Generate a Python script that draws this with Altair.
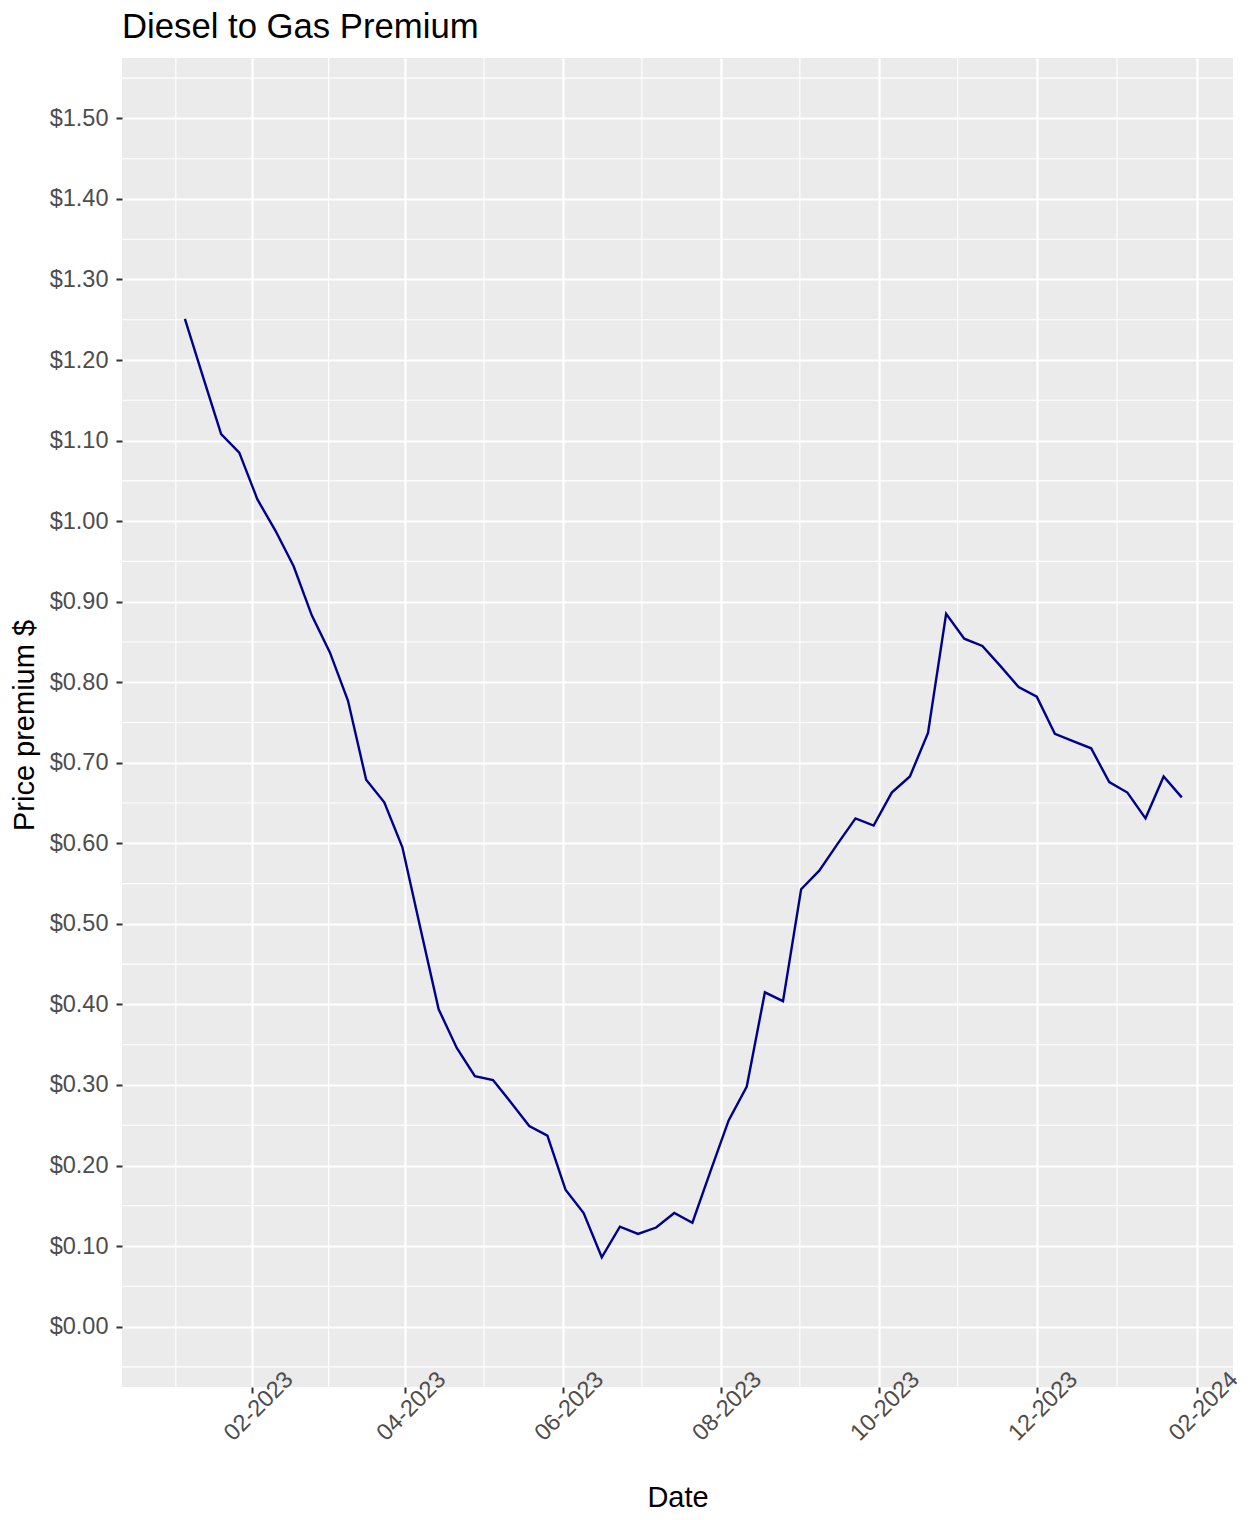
import altair as alt
import pandas as pd

# ---- data ----
dates = [
    "2023-01-06", "2023-01-13", "2023-01-20", "2023-01-27",
    "2023-02-03", "2023-02-10", "2023-02-17", "2023-02-24",
    "2023-03-03", "2023-03-10", "2023-03-17", "2023-03-24", "2023-03-31",
    "2023-04-07", "2023-04-14", "2023-04-21", "2023-04-28",
    "2023-05-05", "2023-05-12", "2023-05-19", "2023-05-26",
    "2023-06-02", "2023-06-09", "2023-06-16", "2023-06-23", "2023-06-30",
    "2023-07-07", "2023-07-14", "2023-07-21", "2023-07-28",
    "2023-08-04", "2023-08-11", "2023-08-18", "2023-08-25",
    "2023-09-01", "2023-09-08", "2023-09-15", "2023-09-22", "2023-09-29",
    "2023-10-06", "2023-10-13", "2023-10-20", "2023-10-27",
    "2023-11-03", "2023-11-10", "2023-11-17", "2023-11-24",
    "2023-12-01", "2023-12-08", "2023-12-15", "2023-12-22", "2023-12-29",
    "2024-01-05", "2024-01-12", "2024-01-19", "2024-01-26",
]
premium = [
    1.251, 1.179, 1.108, 1.085,
    1.027, 0.988, 0.944, 0.883,
    0.837, 0.777, 0.679, 0.651, 0.595,
    0.494, 0.394, 0.346, 0.311,
    0.306, 0.278, 0.249, 0.237,
    0.170, 0.141, 0.086, 0.124, 0.115,
    0.123, 0.141, 0.129, 0.193,
    0.256, 0.298, 0.415, 0.404,
    0.543, 0.566, 0.599, 0.631, 0.622,
    0.663, 0.683, 0.737, 0.885,
    0.854, 0.845, 0.820, 0.794,
    0.782, 0.736, 0.727, 0.718, 0.676,
    0.663, 0.631, 0.683, 0.657,
]

y_ticks = [0.0, 0.1, 0.2, 0.3, 0.4, 0.5, 0.6, 0.7, 0.8, 0.9,
           1.0, 1.1, 1.2, 1.3, 1.4, 1.5]
y_minor = [-0.05, 0.05, 0.15, 0.25, 0.35, 0.45, 0.55, 0.65, 0.75, 0.85,
           0.95, 1.05, 1.15, 1.25, 1.35, 1.45, 1.55]
x_ticks = ["2023-02-01", "2023-04-01", "2023-06-01", "2023-08-01",
           "2023-10-01", "2023-12-01", "2024-02-01"]
x_minor = ["2023-01-02T12:00:00Z", "2023-03-02T12:00:00Z",
           "2023-05-01T12:00:00Z", "2023-07-01T12:00:00Z",
           "2023-08-31T12:00:00Z", "2023-10-31T12:00:00Z",
           "2024-01-01T00:00:00Z"]
x_limits = ["2022-12-12T17:00:00", "2024-02-14T19:00:00"]


def ms(s):
    return int(pd.Timestamp(s, tz="UTC").value // 10**6)


FONT = "Liberation Sans"

df = pd.DataFrame({"date": dates, "premium": premium})
df_xminor = pd.DataFrame({"d": x_minor})
df_yminor = pd.DataFrame({"v": y_minor})

xscale = alt.Scale(type="utc", domain=[ms(s) for s in x_limits])
yscale = alt.Scale(domain=[-0.075, 1.575], nice=False, zero=False)

x_axis = alt.Axis(
    values=[ms(s) for s in x_ticks],
    format="%m-%Y",
    labelAngle=315, labelAlign="center", labelBaseline="middle",
    labelPadding=13, labelOffset=6,
    labelFont=FONT, labelFontSize=23.5, labelColor="#4D4D4D",
    tickColor="#333333", tickSize=6, tickWidth=2,
    domain=False, grid=True, gridColor="white", gridWidth=2.2,
    title="Date", titleFont=FONT, titleFontSize=29, titleFontWeight="normal",
    titleColor="black", titleBaseline="top", titleY=96,
)
y_axis = alt.Axis(
    values=y_ticks, format="$.2f",
    labelFont=FONT, labelFontSize=23.5, labelColor="#4D4D4D",
    labelPadding=8,
    tickColor="#333333", tickSize=6, tickWidth=2,
    domain=False, grid=True, gridColor="white", gridWidth=2.2,
    title="Price premium $", titleFont=FONT, titleFontSize=29,
    titleFontWeight="normal", titleColor="black",
    titleBaseline="bottom", titleX=-83, titleY=667,
)

xminor = alt.Chart(df_xminor).mark_rule(color="white", strokeWidth=1.1).encode(
    x=alt.X("d:T", scale=xscale, axis=x_axis)
)
yminor = alt.Chart(df_yminor).mark_rule(color="white", strokeWidth=1.1).encode(
    y=alt.Y("v:Q", scale=yscale, axis=y_axis)
)
line = alt.Chart(df).mark_line(color="#00008B", strokeWidth=2.4).encode(
    x=alt.X("date:T", scale=xscale, axis=x_axis),
    y=alt.Y("premium:Q", scale=yscale, axis=y_axis),
)

chart = alt.layer(xminor, yminor, line).properties(
    width=1111,
    height=1329,
    title=alt.TitleParams(
        text="Diesel to Gas Premium", anchor="start", frame="group",
        font=FONT, fontSize=34.7, fontWeight="normal", color="black",
        offset=12,
    ),
    autosize=alt.AutoSizeParams(type="none"),
    padding={"left": 114, "top": 50, "right": 9, "bottom": 125},
).configure_view(fill="#EBEBEB", strokeWidth=0)

chart.save("out.html", embed_options={"renderer": "svg", "actions": False})
